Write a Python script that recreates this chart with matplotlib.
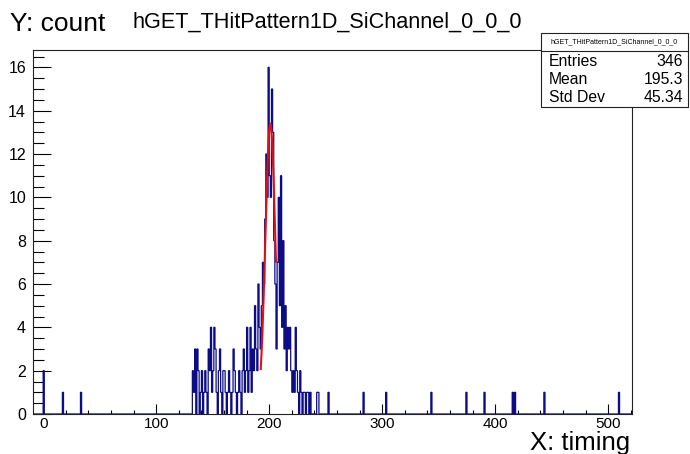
import numpy as np
import matplotlib
matplotlib.use('Agg')
import matplotlib.pyplot as plt
from matplotlib.patches import Rectangle
from matplotlib.lines import Line2D
from matplotlib.ticker import MultipleLocator

plt.rcParams['font.family'] = ['Liberation Sans', 'DejaVu Sans']

# ---------------- data ----------------
hist_title = "hGET_THitPattern1D_SiChannel_0_0_0"
x_label = "X: timing"
y_label = "Y: count"
x_min, x_max = -9, 521
y_max = 16.8

core_first_bin = 130
core_counts = [
    0, 0, 2, 1, 3, 0, 3, 2, 0, 1,      # 130-139
    2, 0, 1, 2, 1, 0, 3, 2, 4, 1,      # 140-149
    2, 4, 3, 1, 0, 2, 3, 1, 0, 2,      # 150-159
    2, 1, 0, 1, 2, 1, 0, 1, 3, 2,      # 160-169
    1, 0, 1, 2, 1, 0, 2, 3, 1, 2,      # 170-179
    4, 1, 2, 4, 1, 3, 2, 5, 3, 2,      # 180-189
    6, 4, 3, 5, 7, 6, 9, 12, 10, 16,   # 190-199
    11, 10, 15, 13, 8, 6, 3, 7, 10, 5, # 200-209
    11, 4, 8, 3, 5, 2, 4, 3, 4, 2,     # 210-219
    1, 2, 1, 4, 2, 1, 0, 2, 1, 0,      # 220-229
    1, 1, 0, 1, 1, 0, 1, 0, 0, 0,      # 230-239
    0, 0, 1, 1, 0, 0, 0, 0, 0, 0,      # 240-249
    0, 0, 1,                           # 250-252
]
outlier_bins = [0, 17, 33, 283, 303, 343, 374, 390, 415, 417, 443, 509]
outlier_counts = [2, 1, 1, 1, 1, 1, 1, 1, 1, 1, 1, 1]

fit_amp, fit_mean, fit_sigma = 13.4, 201.0, 4.4
fit_lo, fit_hi = 192.5, 206.0

stats_labels = ["Entries", "Mean", "Std Dev"]
stats_values = ["346", "195.3", "45.34"]

# ---------------- build histogram ----------------
edges = np.arange(x_min, x_max + 1)
counts = np.zeros(len(edges) - 1)
for i, c in enumerate(core_counts):
    counts[core_first_bin + i - x_min] = c
for b, c in zip(outlier_bins, outlier_counts):
    counts[b - x_min] = c

W, H = 690, 454
fig = plt.figure(figsize=(W / 100, H / 100), dpi=100)

# frame in pixels
fl, fr, ft, fb = 33, 632, 50, 414
ax = fig.add_axes([fl / W, 1 - fb / H, (fr - fl) / W, (fb - ft) / H])

blue = '#0c0c86'
ax.stairs(counts, edges, color=blue, lw=0.9, baseline=0, zorder=2)

xf = np.linspace(fit_lo, fit_hi, 200)
yf = fit_amp * np.exp(-0.5 * ((xf - fit_mean) / fit_sigma) ** 2)
ax.plot(xf, yf, color='#e01010', lw=1.5, zorder=3)

ax.set_xlim(x_min, x_max)
ax.set_ylim(0, y_max)

ax.xaxis.set_major_locator(MultipleLocator(100))
ax.xaxis.set_minor_locator(MultipleLocator(20))
ax.yaxis.set_major_locator(MultipleLocator(2))
ax.yaxis.set_minor_locator(MultipleLocator(0.5))
ax.tick_params(axis='x', which='major', direction='in', length=7.5, width=0.8,
               labelsize=11, pad=2, top=False)
ax.tick_params(axis='x', which='minor', direction='in', length=3.2, width=0.8, top=False)
ax.tick_params(axis='y', which='major', direction='in', length=13, width=0.8,
               labelsize=11.5, pad=5, right=False)
ax.tick_params(axis='y', which='minor', direction='in', length=8, width=0.8, right=False)
for s in ax.spines.values():
    s.set_linewidth(0.8)
    s.set_color('#222222')
    s.set_zorder(4)

# titles
fig.text(10 / W, 1 - 31 / H, y_label, fontsize=19, ha='left', va='baseline')
fig.text(133 / W, 1 - 28 / H, hist_title, fontsize=15.6, ha='left', va='baseline')
fig.text(630 / W, 1 - 450 / H, x_label, fontsize=18.5, ha='right', va='baseline')

# stats box
bl, br, bt, bb = 541, 688, 33, 107
fig.patches.append(Rectangle((bl / W, 1 - bb / H), (br - bl) / W, (bb - bt) / H,
                             transform=fig.transFigure, facecolor='white',
                             edgecolor='#222222', lw=0.8, zorder=5))
fig.lines.append(Line2D([bl / W, br / W], [1 - 51 / H, 1 - 51 / H],
                        transform=fig.transFigure, color='#222222', lw=0.8, zorder=6))
fig.text((bl + br) / 2 / W, 1 - 42 / H, hist_title, fontsize=5, ha='center',
         va='center', zorder=7)
row_y = [62, 80, 97]
for lab, val, yy in zip(stats_labels, stats_values, row_y):
    fig.text(549 / W, 1 - yy / H, lab, fontsize=11.3, ha='left', va='center', zorder=7)
    fig.text(683 / W, 1 - yy / H, val, fontsize=11.3, ha='right', va='center', zorder=7)

fig.savefig('out.png', dpi=100)
